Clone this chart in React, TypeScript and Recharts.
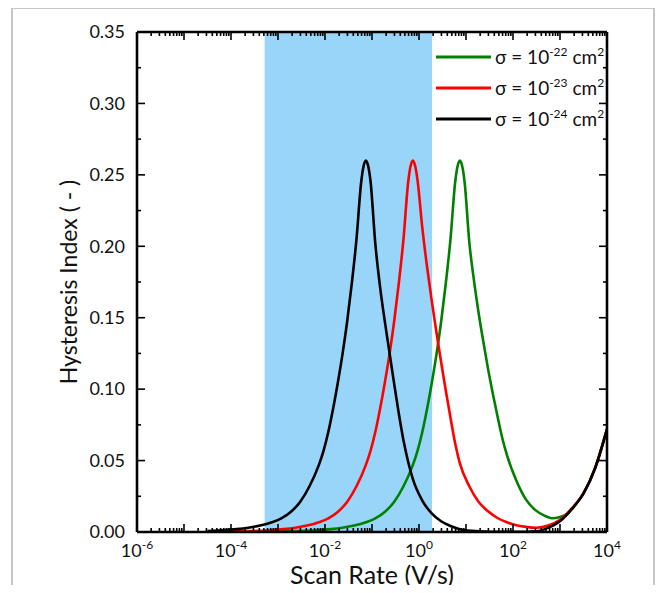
import React from "react";
import { LineChart, Line, XAxis, YAxis, ReferenceArea, Legend, Label } from "recharts";

const FONT = "Lato, 'Open Sans', sans-serif";

// scan rates are kept as log10(V/s)
const greenLogRate = [-3.6, -3.13, -2.63, -2.13, -1.88, -1.63, -1.38, -1.13, -0.93, -0.73, -0.53, -0.33, -0.13, -0.03, 0.07, 0.17, 0.27, 0.37, 0.47, 0.57, 0.67, 0.77, 0.82, 0.87, 0.92, 0.97, 1.07, 1.17, 1.27, 1.37, 1.47, 1.57, 1.67, 1.77, 1.87, 2.07, 2.27, 2.47, 2.67, 2.83, 3, 3.17, 3.25, 3.5, 3.75, 4];
const greenIndex = [0.0002, 0.0003, 0.0006, 0.0013, 0.002, 0.003, 0.0045, 0.0068, 0.0095, 0.014, 0.021, 0.032, 0.047, 0.057, 0.07, 0.086, 0.104, 0.124, 0.147, 0.174, 0.205, 0.245, 0.256, 0.26, 0.256, 0.245, 0.203, 0.176, 0.153, 0.133, 0.114, 0.097, 0.081, 0.066, 0.054, 0.036, 0.023, 0.0155, 0.0115, 0.0096, 0.0105, 0.013, 0.016, 0.027, 0.045, 0.072];

const redLogRate = [-4.4, -4.13, -3.63, -3.13, -2.88, -2.63, -2.38, -2.13, -1.93, -1.73, -1.53, -1.33, -1.13, -1.03, -0.93, -0.83, -0.73, -0.63, -0.53, -0.43, -0.33, -0.23, -0.18, -0.13, -0.08, -0.03, 0.07, 0.17, 0.27, 0.37, 0.47, 0.57, 0.67, 0.77, 0.87, 1.07, 1.27, 1.47, 1.67, 1.87, 2.07, 2.27, 2.5, 2.75, 3, 3.25, 3.5, 3.75, 4];
const redIndex = [0.0002, 0.0003, 0.0006, 0.0013, 0.002, 0.003, 0.0045, 0.0068, 0.0095, 0.014, 0.021, 0.032, 0.047, 0.057, 0.07, 0.086, 0.104, 0.124, 0.147, 0.174, 0.205, 0.245, 0.256, 0.26, 0.256, 0.246, 0.213, 0.186, 0.162, 0.14, 0.119, 0.099, 0.08, 0.062, 0.048, 0.032, 0.021, 0.0145, 0.0098, 0.0068, 0.0047, 0.0036, 0.003, 0.0045, 0.0085, 0.0165, 0.027, 0.045, 0.072];

const blackLogRate = [-4.5, -4.13, -3.88, -3.63, -3.38, -3.13, -2.93, -2.73, -2.53, -2.33, -2.13, -2.03, -1.93, -1.83, -1.73, -1.63, -1.53, -1.43, -1.33, -1.23, -1.18, -1.13, -1.08, -1.03, -0.93, -0.83, -0.73, -0.63, -0.53, -0.43, -0.33, -0.23, -0.13, 0.07, 0.27, 0.47, 0.67, 0.87, 1.12, 1.5, 2, 2.5, 2.75, 3, 3.25, 3.5, 3.75, 4];
const blackIndex = [0.0007, 0.0013, 0.002, 0.003, 0.0045, 0.0068, 0.0095, 0.014, 0.021, 0.032, 0.047, 0.057, 0.07, 0.086, 0.104, 0.124, 0.147, 0.174, 0.205, 0.245, 0.256, 0.26, 0.256, 0.245, 0.202, 0.172, 0.148, 0.126, 0.104, 0.083, 0.064, 0.049, 0.037, 0.022, 0.013, 0.0075, 0.0042, 0.002, 0.0008, 0.0002, 0.0001, 0.0005, 0.003, 0.0075, 0.016, 0.027, 0.045, 0.072];

const bandStart = 5.2e-4;
const bandEnd = 1.9;

const xDecades = [1e-6, 1e-5, 1e-4, 1e-3, 1e-2, 1e-1, 1, 10, 100, 1e3, 1e4];
const xMinorSteps = [2, 3, 4, 5, 6, 7, 8, 9];
const yTicks = [0, 0.025, 0.05, 0.075, 0.1, 0.125, 0.15, 0.175, 0.2, 0.225, 0.25, 0.275, 0.3, 0.325, 0.35];

const legendItems = [
  { exponent: "-22", color: "#008000" },
  { exponent: "-23", color: "#ff0000" },
  { exponent: "-24", color: "#000000" },
];

const toPoints = (logs: number[], vals: number[]) =>
  logs.map((l, i) => ({ rate: Math.pow(10, l), index: vals[i] }));

const greenData = toPoints(greenLogRate, greenIndex);
const redData = toPoints(redLogRate, redIndex);
const blackData = toPoints(blackLogRate, blackIndex);

const xTicks = [
  ...xDecades,
  ...xDecades.slice(0, -1).flatMap((d) => xMinorSteps.map((m) => d * m)),
].sort((a, b) => a - b);

function decadeOf(v: number) {
  const e = Math.round(Math.log10(v));
  return { e, isDecade: Math.abs(Math.log10(v) - e) < 1e-6 };
}

function BottomTick(props: any) {
  const { x, y, payload } = props;
  const { e, isDecade } = decadeOf(payload.value);
  const len = isDecade ? 8 : 4;
  return (
    <g>
      <line x1={x} x2={x} y1={y} y2={y - len} stroke="#000" strokeWidth={1.6} />
      {isDecade && e % 2 === 0 && (
        <text x={x} y={y + 25} textAnchor="middle" fontSize={18} fontFamily={FONT} fill="#111">
          10
          <tspan dy={-8} fontSize={12}>
            {e}
          </tspan>
        </text>
      )}
    </g>
  );
}

function TopTick(props: any) {
  const { x, y, payload } = props;
  const { isDecade } = decadeOf(payload.value);
  const len = isDecade ? 8 : 4;
  return <line x1={x} x2={x} y1={y} y2={y + len} stroke="#000" strokeWidth={1.6} />;
}

const isMajorY = (v: number) => Math.round(v * 1000) % 50 === 0;

function LeftTick(props: any) {
  const { x, y, payload } = props;
  const v = payload.value;
  const len = isMajorY(v) ? 8 : 4;
  return (
    <g>
      <line x1={x} x2={x + len} y1={y} y2={y} stroke="#000" strokeWidth={1.6} />
      {isMajorY(v) && (
        <text x={x - 12} y={y} dy="0.35em" textAnchor="end" fontSize={18} fontFamily={FONT} fill="#111">
          {v.toFixed(2)}
        </text>
      )}
    </g>
  );
}

function RightTick(props: any) {
  const { x, y, payload } = props;
  const len = isMajorY(payload.value) ? 8 : 4;
  return <line x1={x} x2={x - len} y1={y} y2={y} stroke="#000" strokeWidth={1.6} />;
}

const renderLegend = () => (
  <div style={{ fontFamily: FONT, fontSize: 19, color: "#111" }}>
    {legendItems.map((item) => (
      <div key={item.exponent} style={{ display: "flex", alignItems: "center", height: 31 }}>
        <svg width={58} height={6} style={{ marginRight: 1 }}>
          <line x1={0} x2={55} y1={3} y2={3} stroke={item.color} strokeWidth={3} />
        </svg>
        <span style={{ whiteSpace: "nowrap" }}>
          σ = 10
          <span style={{ fontSize: 12, position: "relative", top: -8 }}>{item.exponent}</span> cm
          <span style={{ fontSize: 12, position: "relative", top: -8 }}>2</span>
        </span>
      </div>
    ))}
  </div>
);

const axisLine = { stroke: "#000", strokeWidth: 2.6 };

export default function App() {
  return (
    <div style={{ position: "relative", width: 663, height: 593, margin: -8, background: "#fff" }}>
      <div
        style={{
          position: "absolute",
          left: 11,
          top: 7,
          width: 640,
          height: 600,
          border: "2px solid #c6c6c6",
          pointerEvents: "none",
        }}
      />
      <LineChart width={663} height={593} margin={{ top: 31, right: 55, bottom: 31, left: 77 }}>
        <XAxis
          xAxisId="bottom"
          dataKey="rate"
          type="number"
          scale="log"
          domain={[1e-6, 1e4]}
          ticks={xTicks}
          allowDataOverflow
          height={30}
          tickSize={0}
          tickMargin={0}
          tickLine={false}
          axisLine={axisLine}
          tick={<BottomTick />}
          interval={0}
        >
          <Label
            content={(p: any) => {
              const vb = p.viewBox || { x: 137, y: 532, width: 470 };
              return (
                <text x={vb.x + vb.width / 2} y={vb.y + 52} textAnchor="middle" fontSize={25} fontFamily={FONT} fill="#111">
                  Scan Rate (V/s)
                </text>
              );
            }}
          />
        </XAxis>
        <XAxis
          xAxisId="top"
          orientation="top"
          dataKey="rate"
          type="number"
          scale="log"
          domain={[1e-6, 1e4]}
          ticks={xTicks}
          allowDataOverflow
          height={1}
          tickSize={0}
          tickMargin={0}
          tickLine={false}
          axisLine={axisLine}
          tick={<TopTick />}
          interval={0}
        />
        <YAxis
          yAxisId="left"
          type="number"
          domain={[0, 0.35]}
          ticks={yTicks}
          allowDataOverflow
          width={60}
          tickSize={0}
          tickMargin={0}
          tickLine={false}
          axisLine={axisLine}
          tick={<LeftTick />}
          interval={0}
        >
          <Label
            content={(p: any) => {
              const vb = p.viewBox || { x: 77, y: 32, width: 60, height: 500 };
              const cx = vb.x + vb.width - 68;
              const cy = vb.y + vb.height / 2;
              return (
                <text
                  x={cx}
                  y={cy}
                  transform={`rotate(-90, ${cx}, ${cy})`}
                  textAnchor="middle"
                  dy="0.35em"
                  fontSize={23}
                  fontFamily={FONT}
                  fill="#111"
                >
                  Hysteresis Index ( - )
                </text>
              );
            }}
          />
        </YAxis>
        <YAxis
          yAxisId="right"
          orientation="right"
          type="number"
          domain={[0, 0.35]}
          ticks={yTicks}
          allowDataOverflow
          width={1}
          tickSize={0}
          tickMargin={0}
          tickLine={false}
          axisLine={axisLine}
          tick={<RightTick />}
          interval={0}
        />
        <ReferenceArea
          xAxisId="bottom"
          yAxisId="left"
          x1={bandStart}
          x2={bandEnd}
          y1={0}
          y2={0.35}
          fill="#99d5f9"
          fillOpacity={1}
          stroke="none"
          ifOverflow="hidden"
        />
        <Legend
          content={renderLegend}
          layout="horizontal"
          verticalAlign="middle"
          align="center"
          wrapperStyle={{ left: 436, top: 41, width: 180, height: 93 }}
        />
        <Line xAxisId="bottom" yAxisId="left" data={greenData} dataKey="index" type="monotone" stroke="#008000" strokeWidth={2.6} dot={false} isAnimationActive={false} />
        <Line xAxisId="bottom" yAxisId="left" data={redData} dataKey="index" type="monotone" stroke="#ff0000" strokeWidth={2.6} dot={false} isAnimationActive={false} />
        <Line xAxisId="bottom" yAxisId="left" data={blackData} dataKey="index" type="monotone" stroke="#000000" strokeWidth={2.6} dot={false} isAnimationActive={false} />
      </LineChart>
    </div>
  );
}
